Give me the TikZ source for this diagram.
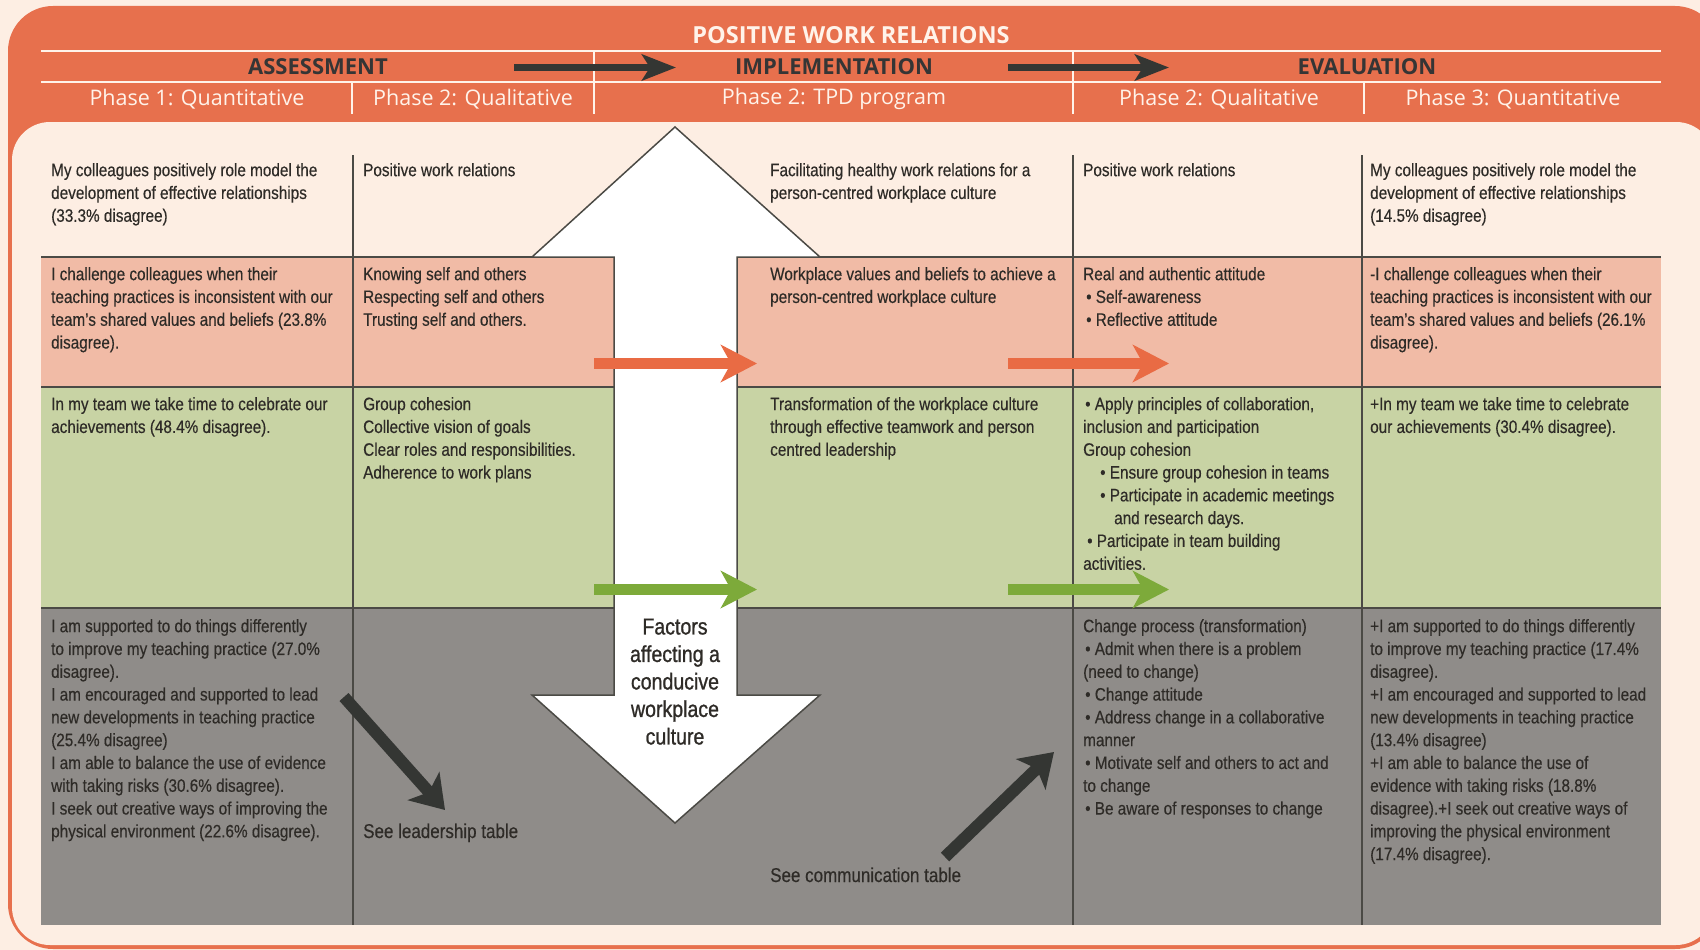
\documentclass[tikz,border=0pt]{standalone}
\usepackage{fontspec}
\setmainfont{Liberation Sans}[FakeStretch=0.85, FakeBold=0.35]
\newfontfamily\hdrfamily{Open Sans}
\newfontfamily\factfamily{Liberation Sans}[FakeStretch=0.85, FakeBold=1.0]
\usetikzlibrary{arrows.meta}
\definecolor{creamc}{HTML}{FDEEE3}
\definecolor{orangec}{HTML}{E7704D}
\definecolor{pinkc}{HTML}{F1BBA6}
\definecolor{greenc}{HTML}{C8D3A4}
\definecolor{grayc}{HTML}{8F8C89}
\definecolor{linec}{HTML}{4B4A45}
\definecolor{textc}{HTML}{2E2B27}
\definecolor{hdrwhite}{HTML}{FFF3EA}
\definecolor{hdrdark}{HTML}{353535}
\definecolor{oarrowc}{HTML}{E96B44}
\definecolor{garrowc}{HTML}{7DAA3A}
\definecolor{darrowc}{HTML}{343633}
\newcommand\cellfnt{\fontsize{18}{22.8}\selectfont}
\newcommand\labfnt{\fontsize{20}{24}\selectfont}
\newcommand\factfnt{\factfamily\fontsize{23}{27.5}\selectfont}
\newcommand\hdrfnt{\hdrfamily\fontsize{21.5}{24}\selectfont}
\newcommand\hdrsfnt{\hdrfamily\bfseries\fontsize{22}{24}\selectfont}
\newcommand\hdrtfnt{\hdrfamily\bfseries\fontsize{23.5}{26}\selectfont}
\tikzset{
  cell/.style={anchor=north west, inner sep=0pt, align=left, font=\cellfnt, text=textc},
  lab/.style={anchor=north west, inner sep=0pt, align=left, font=\labfnt, text=textc},
  hdrline/.style={draw=hdrwhite, line width=1.8pt},
  rowline/.style={draw=linec, line width=1.5pt},
  hdrtitle/.style={inner sep=0pt, font=\hdrtfnt, text=hdrwhite},
  hdrstage/.style={inner sep=0pt, font=\hdrsfnt, text=hdrdark},
  hdrphase/.style={inner sep=0pt, font=\hdrfnt, text=hdrwhite},
  hdrarrow/.style={draw=darrowc, line width=7pt, -{Stealth[length=34pt,width=26pt,inset=8pt]}},
  oarrow/.style={draw=oarrowc, line width=11pt, -{Stealth[length=36pt,width=37pt,inset=10pt]}},
  garrow/.style={draw=garrowc, line width=11pt, -{Stealth[length=36pt,width=37pt,inset=10pt]}},
  darrow/.style={draw=darrowc, line width=12pt, -{Stealth[length=32pt,width=42pt,inset=8pt]}},
  bigarrow/.style={fill=white, draw=linec, line width=1.5pt, line join=miter},
}
\begin{document}
\begin{tikzpicture}[x=1pt,y=-1pt]
\useasboundingbox (0,0) rectangle (1700,950);
\clip (0,0) rectangle (1700,950);
\fill[creamc] (0,0) rectangle (1700,950);
\fill[orangec, rounded corners=45pt] (8,6) rectangle (1720,949);
\fill[creamc, rounded corners=38pt] (12,122) rectangle (1714,945);

% header lines
\draw[hdrline] (41,51) -- (1661,51);
\draw[hdrline] (41,82) -- (1661,82);
\draw[hdrline] (594,51) -- (594,114);
\draw[hdrline] (1073,51) -- (1073,114);
\draw[hdrline] (352,82) -- (352,114);
\draw[hdrline] (1364,82) -- (1364,114);

% header texts
\node[hdrtitle] (title) at (851,35) {POSITIVE WORK RELATIONS};
\node[hdrstage] (assess) at (318,67) {ASSESSMENT};
\node[hdrstage] (impl) at (834,67) {IMPLEMENTATION};
\node[hdrstage] (evalu) at (1367,67) {EVALUATION};
\node[hdrphase] (pa) at (197,99) {Phase 1: Quantitative};
\node[hdrphase] (pb) at (473,99) {Phase 2: Qualitative};
\node[hdrphase] (pc) at (834,99) {Phase 2: TPD program};
\node[hdrphase] (pd) at (1219,99) {Phase 2: Qualitative};
\node[hdrphase] (pe) at (1513,99) {Phase 3: Quantitative};

% header arrows
\coordinate (ha1s) at (514,67.5);
\coordinate (ha1e) at (676,67.5);
\coordinate (ha2s) at (1008,67.5);
\coordinate (ha2e) at (1169,67.5);
\draw[hdrarrow] (ha1s) -- (ha1e);
\draw[hdrarrow] (ha2s) -- (ha2e);

% rows
\fill[pinkc] (41,257) rectangle (1661,387);
\fill[greenc] (41,387) rectangle (1661,608);
\fill[grayc] (41,608) rectangle (1661,925);
\draw[rowline] (41,257) -- (1661,257);
\draw[rowline] (41,387) -- (1661,387);
\draw[rowline] (41,608) -- (1661,608);
\draw[rowline] (353,155) -- (353,925);
\draw[rowline] (1073,155) -- (1073,925);
\draw[rowline] (1362,155) -- (1362,925);

% big double arrow
\draw[bigarrow] (614,257) -- (532,257) -- (675,127) -- (820,257) -- (737,257) -- (737,695) -- (820,695) -- (675,823) -- (532,695) -- (614,695) -- cycle;
\node[inner sep=0pt, anchor=north, align=center, font=\factfnt, text=textc] (factors) at (675,615) {\strut Factors\\affecting a\\conducive\\workplace\\culture};

% horizontal arrows
\coordinate (oa1s) at (594,363.5);
\coordinate (oa1e) at (757,363.5);
\coordinate (oa2s) at (1008,363.5);
\coordinate (oa2e) at (1169,363.5);
\coordinate (ga1s) at (594,589.5);
\coordinate (ga1e) at (757,589.5);
\coordinate (ga2s) at (1008,589.5);
\coordinate (ga2e) at (1169,589.5);
\draw[oarrow] (oa1s) -- (oa1e);
\draw[oarrow] (oa2s) -- (oa2e);
\draw[garrow] (ga1s) -- (ga1e);
\draw[garrow] (ga2s) -- (ga2e);

% diagonal arrows
\coordinate (da1s) at (344,697);
\coordinate (da1e) at (445,810);
\coordinate (da2s) at (945,857);
\coordinate (da2e) at (1054,752);
\draw[darrow] (da1s) -- (da1e);
\draw[darrow] (da2s) -- (da2e);

% column 1
\node[cell] (c11) at (51,160) {\strut My colleagues positively role model the\\development of effective relationships\\(33.3\% disagree)};
\node[cell] (c12) at (51,264) {\strut I challenge colleagues when their\\teaching practices is inconsistent with our\\team’s shared values and beliefs (23.8\%\\disagree).};
\node[cell] (c13) at (51,394) {\strut In my team we take time to celebrate our\\achievements (48.4\% disagree).};
\node[cell] (c14) at (51,616) {\strut I am supported to do things differently\\to improve my teaching practice (27.0\%\\disagree).\\I am encouraged and supported to lead\\new developments in teaching practice\\(25.4\% disagree)\\I am able to balance the use of evidence\\with taking risks (30.6\% disagree).\\I seek out creative ways of improving the\\physical environment (22.6\% disagree).};

% column 2
\node[cell] (c21) at (363,160) {\strut Positive work relations};
\node[cell] (c22) at (363,264) {\strut Knowing self and others\\Respecting self and others\\Trusting self and others.};
\node[cell] (c23) at (363,394) {\strut Group cohesion\\Collective vision of goals\\Clear roles and responsibilities.\\Adherence to work plans};
\node[lab] (seelead) at (363,821) {\strut See leadership table};

% column 3
\node[cell] (c31) at (770,160) {\strut Facilitating healthy work relations for a\\person-centred workplace culture};
\node[cell] (c32) at (770,264) {\strut Workplace values and beliefs to achieve a\\person-centred workplace culture};
\node[cell] (c33) at (770,394) {\strut Transformation of the workplace culture\\through effective teamwork and person\\centred leadership};
\node[lab] (seecomm) at (770,865) {\strut See communication table};

% column 4
\node[cell] (c41) at (1083,160) {\strut Positive work relations};
\node[cell] (c42) at (1083,264) {\strut Real and authentic attitude\\\hspace*{3pt}• Self-awareness\\\hspace*{3pt}• Reflective attitude};
\node[cell] (c43) at (1083,394) {\strut\hspace*{2pt}• Apply principles of collaboration,\\inclusion and participation\\Group cohesion\\\hspace*{17pt}• Ensure group cohesion in teams\\\hspace*{17pt}• Participate in academic meetings\\\hspace*{31pt}and research days.\\\hspace*{4pt}• Participate in team building\\activities.};
\node[cell] (c44) at (1083,616) {\strut Change process (transformation)\\\hspace*{2pt}• Admit when there is a problem\\(need to change)\\\hspace*{2pt}• Change attitude\\\hspace*{2pt}• Address change in a collaborative\\manner\\\hspace*{2pt}• Motivate self and others to act and\\to change\\\hspace*{2pt}• Be aware of responses to change};

% column 5
\node[cell] (c51) at (1370,160) {\strut My colleagues positively role model the\\development of effective relationships\\(14.5\% disagree)};
\node[cell] (c52) at (1370,264) {\strut -I challenge colleagues when their\\teaching practices is inconsistent with our\\team’s shared values and beliefs (26.1\%\\disagree).};
\node[cell] (c53) at (1370,394) {\strut +In my team we take time to celebrate\\our achievements (30.4\% disagree).};
\node[cell] (c54) at (1370,616) {\strut +I am supported to do things differently\\to improve my teaching practice (17.4\%\\disagree).\\+I am encouraged and supported to lead\\new developments in teaching practice\\(13.4\% disagree)\\+I am able to balance the use of\\evidence with taking risks (18.8\%\\disagree).+I seek out creative ways of\\improving the physical environment\\(17.4\% disagree).};
\end{tikzpicture}
\end{document}
